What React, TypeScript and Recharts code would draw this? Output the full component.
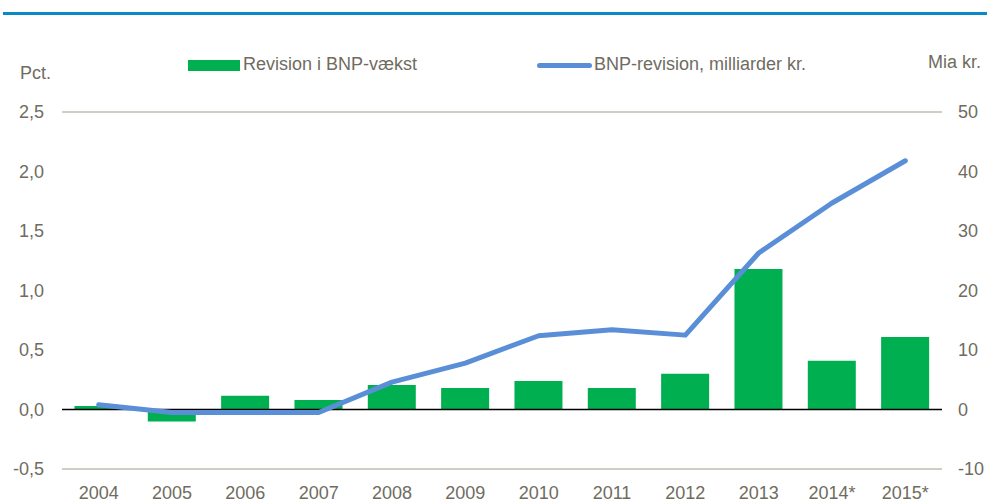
import {
  Bar,
  CartesianGrid,
  ComposedChart,
  Legend,
  Line,
  ReferenceLine,
  XAxis,
  YAxis,
} from "recharts";

const years = ["2004", "2005", "2006", "2007", "2008", "2009", "2010", "2011", "2012", "2013", "2014*", "2015*"];
const growthRevision = [0.03, -0.1, 0.115, 0.08, 0.205, 0.18, 0.24, 0.18, 0.3, 1.18, 0.41, 0.61];
const gdpRevision = [0.8, -0.5, -0.5, -0.5, 4.6, 7.8, 12.4, 13.4, 12.5, 26.3, 34.7, 41.8];

const pctTicks = [-0.5, 0, 0.5, 1, 1.5, 2, 2.5];
const miaTicks = [-10, 0, 10, 20, 30, 40, 50];

const data = years.map((year, i) => ({
  year,
  growth: growthRevision[i],
  gdp: gdpRevision[i],
}));

const FONT = "'Liberation Sans', Arial, sans-serif";
const TEXT = "#6f6c5f";
const GREEN = "#00b050";
const BLUE = "#5a8fd8";

function ChartLegend() {
  return (
    <div style={{ position: "relative", height: 24, fontFamily: FONT, fontSize: 18, color: TEXT }}>
      <div style={{ position: "absolute", left: 188, top: 1, width: 52, height: 11, background: GREEN }} />
      <span style={{ position: "absolute", left: 243, top: -5, whiteSpace: "nowrap" }}>Revision i BNP-vækst</span>
      <div style={{ position: "absolute", left: 537, top: 4, width: 55, height: 5, borderRadius: 3, background: BLUE }} />
      <span style={{ position: "absolute", left: 594, top: -5, whiteSpace: "nowrap" }}>BNP-revision, milliarder kr.</span>
    </div>
  );
}

export default function App() {
  return (
    <div style={{ position: "absolute", left: 0, top: 0, width: 987, height: 502, background: "#fff" }}>
      <div style={{ position: "absolute", left: 3, top: 12, width: 984, height: 3, background: "#0a89c7" }} />
      <span style={{ position: "absolute", left: 20, top: 63, fontFamily: FONT, fontSize: 18, color: TEXT }}>Pct.</span>
      <span style={{ position: "absolute", left: 928, top: 52, fontFamily: FONT, fontSize: 18, color: TEXT, whiteSpace: "nowrap" }}>
        Mia kr.
      </span>
      <ComposedChart
        width={987}
        height={502}
        data={data}
        margin={{ top: 88, right: 0, bottom: 0, left: 0 }}
        barCategoryGap="17%"
      >
        <CartesianGrid vertical={false} stroke="#bfbdb0" strokeWidth={1.3} />
        <XAxis
          dataKey="year"
          axisLine={false}
          tickLine={false}
          tickSize={0}
          tickMargin={17}
          height={33}
          interval={0}
          tick={{ fill: TEXT, fontSize: 18, fontFamily: FONT }}
        />
        <YAxis
          yAxisId="pct"
          orientation="left"
          width={62}
          domain={[-0.5, 2.5]}
          ticks={pctTicks}
          axisLine={false}
          tickLine={false}
          tickSize={0}
          tickMargin={18}
          tickFormatter={(v: number) => v.toFixed(1).replace(".", ",")}
          tick={{ fill: TEXT, fontSize: 18, fontFamily: FONT }}
        />
        <YAxis
          yAxisId="mia"
          orientation="right"
          width={45}
          domain={[-10, 50]}
          ticks={miaTicks}
          axisLine={false}
          tickLine={false}
          tickSize={0}
          tickMargin={16}
          tick={{ fill: TEXT, fontSize: 18, fontFamily: FONT, textAnchor: "start" }}
        />
        <Legend verticalAlign="top" wrapperStyle={{ top: 59, left: 0, width: 987 }} content={() => <ChartLegend />} />
        <Bar yAxisId="pct" dataKey="growth" fill={GREEN} isAnimationActive={false} />
        <ReferenceLine yAxisId="pct" y={0} stroke="#000" strokeWidth={1.5} />
        <Line
          yAxisId="mia"
          type="linear"
          dataKey="gdp"
          stroke={BLUE}
          strokeWidth={5}
          strokeLinecap="round"
          strokeLinejoin="round"
          dot={false}
          activeDot={false}
          isAnimationActive={false}
        />
      </ComposedChart>
    </div>
  );
}
